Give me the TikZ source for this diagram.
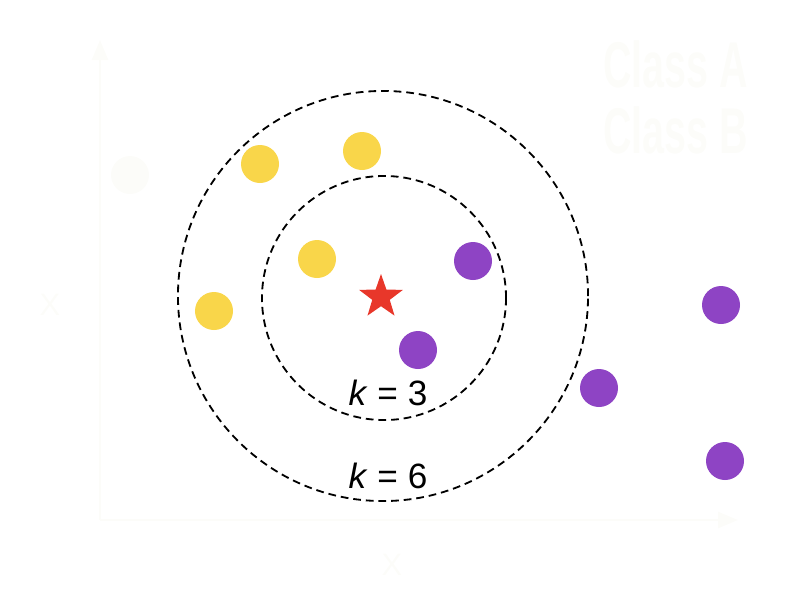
\documentclass[tikz,border=0pt]{standalone}
\usepackage{fontspec}
\setmainfont{Liberation Sans}
\usetikzlibrary{arrows.meta,positioning,shapes.geometric}

\definecolor{classA}{HTML}{F9D64A}
\definecolor{classB}{HTML}{8E44C4}
\definecolor{query}{HTML}{E8372A}
\definecolor{ghost}{HTML}{FCFCF9}

\begin{document}
\begin{tikzpicture}[
  x=0.025cm, y=-0.025cm,
  ptA/.style={circle, fill=classA, minimum size=0.95cm, inner sep=0pt},
  ptB/.style={circle, fill=classB, minimum size=0.95cm, inner sep=0pt},
  ring/.style={circle, draw=black, line width=1.3pt, dash pattern=on 5.5pt off 3.5pt, inner sep=0pt},
  klabel/.style={font=\fontsize{25}{30}\selectfont, inner sep=0pt},
  faint/.style={draw=ghost, line width=2pt},
  axis/.style={faint, -{Triangle[length=5mm, width=4mm]}}
]
\useasboundingbox (0,0) rectangle (800,600);

% faint axes and legend
\coordinate (origin) at (100,520);
\coordinate (xend) at (738,520);
\coordinate (yend) at (100,40);
\draw[axis] (origin) -- (xend);
\draw[axis] (origin) -- (yend);
\node[text=ghost, font=\fontsize{22}{26}\selectfont] (xlab) at (392,565) {X};
\node[text=ghost, font=\fontsize{22}{26}\selectfont] (ylab) at (50,305) {X};
\node[circle, fill=ghost, minimum size=0.95cm, inner sep=0pt] (ghostpt) at (130,175) {};
\node[text=ghost, font=\bfseries\fontsize{46}{47}\selectfont, anchor=north west, align=left,
      inner sep=0pt] (legend) at (603,40) {\scalebox{0.61}[1]{Class A}\\\scalebox{0.61}[1]{Class B}};

% neighbourhoods
\node[ring, minimum size=6.1cm] (inner) at (384,298) {};
\node[ring, minimum size=10.25cm] (outer) at (383,296) {};

% class A points
\node[ptA] (a1) at (260,164) {};
\node[ptA] (a2) at (362,151) {};
\node[ptA] (a3) at (317,259) {};
\node[ptA] (a4) at (214,311) {};

% class B points
\node[ptB] (b1) at (473,261) {};
\node[ptB] (b2) at (418,350) {};
\node[ptB] (b3) at (599,388) {};
\node[ptB] (b4) at (721,305) {};
\node[ptB] (b5) at (725,461) {};

% query point
\node[star, star points=5, star point ratio=2.5, fill=query, minimum size=1.15cm,
      inner sep=0pt] (query) at (381,297) {};

\node[klabel] (k3) at (388,393) {\textit{k} = 3};
\node[klabel] (k6) at (388,476) {\textit{k} = 6};
\end{tikzpicture}
\end{document}
